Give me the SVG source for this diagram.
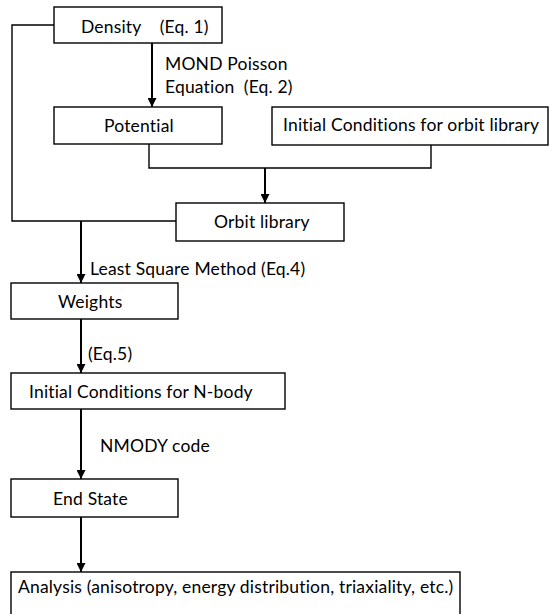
<svg xmlns="http://www.w3.org/2000/svg" width="558" height="614" viewBox="0 0 558 614">
  <style>
    .box { fill: #fff; stroke: #000; stroke-width: 1.4; }
    .lbl { font-family: Lato, "Open Sans", sans-serif; font-size: 17.5px; letter-spacing: 0.18px; fill: #000; }
    .line { fill: none; stroke: #000; stroke-width: 1.4; }
    .arrow { fill: none; stroke: #000; stroke-width: 2; marker-end: url(#head); }
  </style>
  <defs>
    <marker id="head" viewBox="0 0 10 10" refX="10" refY="5" markerWidth="4.5" markerHeight="4.5" markerUnits="strokeWidth" orient="auto">
      <path d="M0,0 L10,5 L0,10 Z" fill="#000"/>
    </marker>
  </defs>
  <rect width="558" height="614" fill="#fff"/>

  <!-- connectors -->
  <g id="connectors">
    <polyline class="line" points="54,25 12,25 12,221 176,221"/>
    <line class="arrow" x1="152" y1="43" x2="152" y2="107"/>
    <polyline class="line" points="149,144 149,168 431,168 431,145"/>
    <line class="arrow" x1="265" y1="168" x2="265" y2="203"/>
    <line class="arrow" x1="81" y1="221" x2="81" y2="283"/>
    <line class="arrow" x1="81" y1="319" x2="81" y2="373"/>
    <line class="arrow" x1="81" y1="409" x2="81" y2="479"/>
    <line class="arrow" x1="81" y1="517" x2="81" y2="572"/>
    <text class="lbl" x="165" y="70">MOND Poisson</text>
    <text class="lbl" x="165" y="93" xml:space="preserve">Equation  (Eq. 2)</text>
    <text class="lbl" x="90" y="275">Least Square Method (Eq.4)</text>
    <text class="lbl" x="88" y="360">(Eq.5)</text>
    <text class="lbl" x="100" y="452">NMODY code</text>
  </g>

  <g id="density">
    <rect class="box" x="54" y="7" width="168" height="36"/>
    <text class="lbl" x="81" y="33" xml:space="preserve">Density    (Eq. 1)</text>
  </g>
  <g id="potential">
    <rect class="box" x="54" y="107" width="168" height="37"/>
    <text class="lbl" x="104" y="132">Potential</text>
  </g>
  <g id="orbit-ic">
    <rect class="box" x="272" y="107" width="276" height="38"/>
    <text class="lbl" x="283" y="131">Initial Conditions for orbit library</text>
  </g>
  <g id="orbit-library">
    <rect class="box" x="176" y="203" width="168" height="38"/>
    <text class="lbl" x="214" y="228">Orbit library</text>
  </g>
  <g id="weights">
    <rect class="box" x="11" y="283" width="167" height="36"/>
    <text class="lbl" x="58" y="308">Weights</text>
  </g>
  <g id="nbody-ic">
    <rect class="box" x="11" y="373" width="274" height="36"/>
    <text class="lbl" x="29" y="398">Initial Conditions for N-body</text>
  </g>
  <g id="end-state">
    <rect class="box" x="11" y="479" width="167" height="38"/>
    <text class="lbl" x="53" y="505">End State</text>
  </g>
  <g id="analysis">
    <rect class="box" x="11" y="572" width="449" height="60"/>
    <text class="lbl" x="18" y="593">Analysis (anisotropy, energy distribution, triaxiality, etc.)</text>
  </g>
</svg>
